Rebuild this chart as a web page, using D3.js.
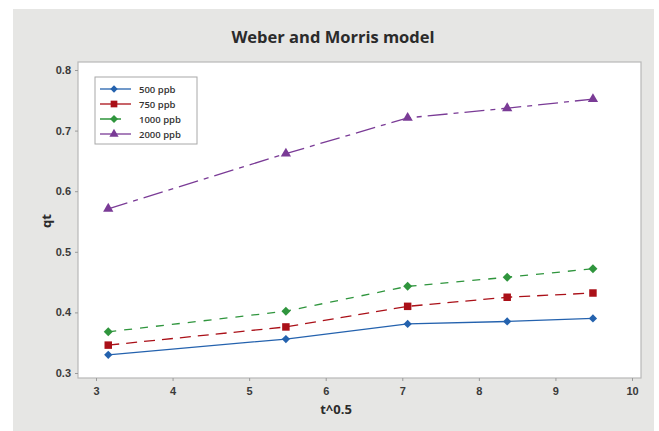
<!DOCTYPE html>
<html>
<head>
<meta charset="utf-8">
<script src="https://cdn.jsdelivr.net/npm/d3@7"></script>
<style>
  html, body { margin: 0; padding: 0; background: #ffffff; }
  svg { display: block; font-family: "Open Sans", "Noto Sans", sans-serif; }
</style>
</head>
<body>
<svg id="chart" width="659" height="431"></svg>
<script>
// Square root of contact time (t^0.5)
const sqrtTime = [3.16, 5.48, 7.07, 8.37, 9.49];

// Uptake qt for each initial concentration
const q500  = [0.330, 0.356, 0.381, 0.385, 0.390];
const q750  = [0.346, 0.376, 0.410, 0.425, 0.432];
const q1000 = [0.368, 0.402, 0.443, 0.458, 0.472];
const q2000 = [0.571, 0.662, 0.721, 0.737, 0.752];

const seriesNames = ["500 ppb", "750 ppb", "1000 ppb", "2000 ppb"];
const xTicks = [3, 4, 5, 6, 7, 8, 9, 10];
const yTicks = [0.3, 0.4, 0.5, 0.6, 0.7, 0.8];

// diamonds are squares turned by 45 degrees
const series = [
  { name: seriesNames[0], values: q500,  color: "#2462ae", dash: null,       symbol: d3.symbolSquare,   size: 34, rot: 45 },
  { name: seriesNames[1], values: q750,  color: "#aa1018", dash: "11,7",     symbol: d3.symbolSquare,   size: 56, rot: 0 },
  { name: seriesNames[2], values: q1000, color: "#2f953d", dash: "8,8",      symbol: d3.symbolSquare,   size: 40, rot: 45 },
  { name: seriesNames[3], values: q2000, color: "#7a3b96", dash: "20,6,5,6", symbol: d3.symbolTriangle, size: 46, rot: 0 }
];

const svg = d3.select("#chart");

// outer panel
svg.append("rect").attr("x", 13).attr("y", 9).attr("width", 641).attr("height", 422)
  .attr("fill", "#e6e6e4");

const x = d3.scaleLinear().domain([3, 10]).range([96, 632]);
const y = d3.scaleLinear().domain([0.3, 0.8]).range([373, 70]);

// data region frame
const box = { x0: 78, x1: 641, y0: 62, y1: 378 };
svg.append("rect")
  .attr("x", box.x0).attr("y", box.y0)
  .attr("width", box.x1 - box.x0).attr("height", box.y1 - box.y0)
  .attr("fill", "#ffffff").attr("stroke", "#b8b8b8").attr("stroke-width", 1.2);

// axes
const xAxis = d3.axisBottom(x).tickValues(xTicks).tickFormat(d3.format("d"))
  .tickSizeOuter(0).tickSizeInner(3).tickPadding(6);
const yAxis = d3.axisLeft(y).tickValues(yTicks).tickFormat(d3.format(".1f"))
  .tickSizeOuter(0).tickSizeInner(3).tickPadding(4);

const gx = svg.append("g").attr("transform", `translate(0,${box.y1})`).call(xAxis);
const gy = svg.append("g").attr("transform", `translate(${box.x0},0)`).call(yAxis);
[gx, gy].forEach(g => {
  g.select(".domain").remove();
  g.selectAll(".tick line").attr("stroke", "#9a9a9a");
  g.selectAll(".tick text").attr("fill", "#3a3a3a").attr("font-size", 11)
    .attr("font-weight", 600);
});

// title and axis labels
svg.append("text").attr("x", 333).attr("y", 43).attr("text-anchor", "middle")
  .attr("font-size", 16.5).attr("font-weight", 700).attr("fill", "#2b2b2b")
  .text("Weber and Morris model");
svg.append("text").attr("x", 336).attr("y", 414).attr("text-anchor", "middle")
  .attr("font-size", 13).attr("font-weight", 700).attr("fill", "#2b2b2b")
  .text("t^0.5");
svg.append("text").attr("transform", "translate(51,221) rotate(-90)")
  .attr("text-anchor", "middle")
  .attr("font-size", 13).attr("font-weight", 700).attr("fill", "#2b2b2b")
  .text("qt");

// series lines and markers
const line = d3.line().x((d, i) => x(sqrtTime[i])).y(d => y(d));
series.forEach(s => {
  svg.append("path").datum(s.values)
    .attr("d", line).attr("fill", "none")
    .attr("stroke", s.color).attr("stroke-width", 1.3)
    .attr("stroke-dasharray", s.dash);
  svg.append("g").selectAll("path").data(s.values).join("path")
    .attr("transform", (d, i) => `translate(${x(sqrtTime[i])},${y(d)}) rotate(${s.rot})`)
    .attr("d", d3.symbol().type(s.symbol).size(s.size))
    .attr("fill", s.color);
});

// legend
const lg = svg.append("g").attr("transform", "translate(95,77)");
lg.append("rect").attr("width", 102).attr("height", 67)
  .attr("fill", "#ffffff").attr("stroke", "#a8a8a8").attr("stroke-width", 1);
series.forEach((s, i) => {
  const row = lg.append("g").attr("transform", `translate(0,${12 + i * 15})`);
  row.append("line").attr("x1", 5).attr("x2", 36)
    .attr("stroke", s.color).attr("stroke-width", 1.3)
    .attr("stroke-dasharray", i === 2 ? "13,4,4,10" : null);
  row.append("path").attr("transform", `translate(19,0) rotate(${s.rot})`)
    .attr("d", d3.symbol().type(s.symbol).size(s.size * 0.8))
    .attr("fill", s.color);
  row.append("text").attr("x", 44).attr("y", 3.5)
    .attr("font-size", 9.5).attr("font-weight", 600).attr("fill", "#333")
    .text(s.name);
});
</script>
</body>
</html>
